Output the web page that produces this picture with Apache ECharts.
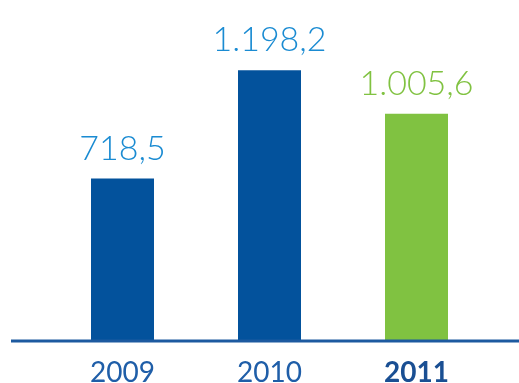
<!DOCTYPE html>
<html>
<head>
<meta charset="utf-8">
<style>
  html, body { margin: 0; padding: 0; background: #fff; }
  #chart { width: 519px; height: 383px; }
</style>
<script src="https://cdn.jsdelivr.net/npm/echarts@6/dist/echarts.min.js"></script>
</head>
<body>
<div id="chart"></div>
<script>
// datos del gráfico
var years = ['2009', '2010', '2011'];
var values = [718.5, 1198.2, 1005.6];
var barColors = ['#03529c', '#03529c', '#80c241'];
var labelColors = ['#1a8bd2', '#1a8bd2', '#80c241'];

function fmt(v) {
	// formato español: 1.198,2
	var parts = v.toFixed(1).split('.');
	var ent = parts[0].replace(/\B(?=(\d{3})+(?!\d))/g, '.');
	return ent + ',' + parts[1];
}

var myChart = echarts.init(document.getElementById('chart'));

var option = {
	animation: false,
	grid: { left: 49, width: 441, top: 2, bottom: 42, outerBoundsMode: 'none', containLabel: false },
	xAxis: {
		type: 'category',
		data: years,
		axisLine: { show: false },
		axisTick: { show: false },
		axisLabel: {
			margin: 18,
			fontFamily: 'Lato',
			fontSize: 28,
			color: '#1f5ea8',
			formatter: function (v) {
				return v === '2011' ? '{b|' + v + '}' : v;
			},
			rich: {
				b: { fontFamily: 'Lato', fontSize: 28, fontWeight: 'bold', color: '#1a4f93' }
			}
		}
	},
	yAxis: {
		type: 'value',
		min: 0,
		max: 1500,
		show: false
	},
	graphic: [{
		type: 'line',
		shape: { x1: 11, y1: 341, x2: 519, y2: 341 },
		style: { stroke: '#1d5aa0', lineWidth: 3 },
		z: 10
	}],
	series: [{
		type: 'bar',
		barWidth: 63,
		data: values.map(function (v, i) {
			return {
				value: v,
				itemStyle: { color: barColors[i] },
				label: { color: labelColors[i] }
			};
		}),
		label: {
			show: true,
			position: 'top',
			distance: 13,
			fontFamily: 'Lato',
			fontWeight: 300,
			fontSize: 34,
			formatter: function (p) { return fmt(p.value); }
		}
	}]
};

myChart.setOption(option);
</script>
</body>
</html>
